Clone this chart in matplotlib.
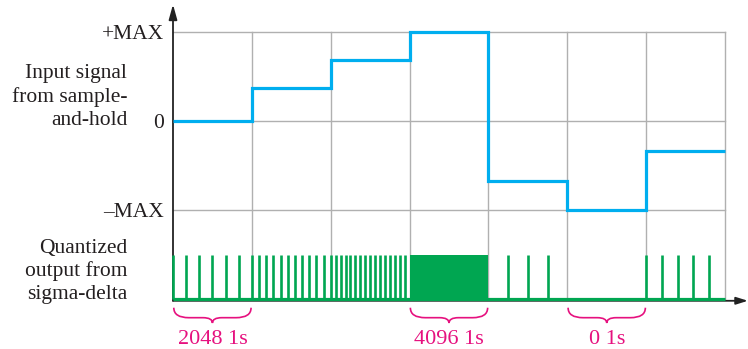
import numpy as np
import matplotlib
matplotlib.use("Agg")
import matplotlib.pyplot as plt
from matplotlib.path import Path
from matplotlib.patches import PathPatch

plt.rcParams["font.family"] = ["Liberation Serif", "DejaVu Serif"]

# input signal level held in each sample period (+MAX = 1, -MAX = -1)
levels = [0, 0.37, 0.685, 1, -0.674, -1, -0.337]
edges = np.arange(len(levels) + 1)

# sigma-delta output pulses (x in sample periods)
pulses = [0, 0.167, 0.333, 0.5, 0.667, 0.833,
          1.0, 1.091, 1.182, 1.273, 1.364, 1.455, 1.545, 1.636, 1.727, 1.818, 1.909,
          2.0, 2.0625, 2.125, 2.1875, 2.25, 2.3125, 2.375, 2.4375, 2.5, 2.5625,
          2.625, 2.6875, 2.75, 2.8125, 2.875, 2.9375,
          4.25, 4.5, 4.75,
          6.0, 6.2, 6.4, 6.6, 6.8]
solid_periods = [3]          # all ones
brace_periods = [0, 3, 5]
brace_labels = ["2048 1s", "4096 1s", "0 1s"]

ytick_vals = [1, 0, -1]
ytick_labels = ["+MAX", "0", "\u2013MAX"]

blue = "#00AEEF"
green = "#00A651"
magenta = "#E6117F"
grey = "#B0B0B0"

fig = plt.figure(figsize=(7.48, 3.49), dpi=100)
ax = fig.add_axes([0, 0, 1, 1])
ax.set_xlim(-173 / 78.86, 575 / 78.86)
ax.set_ylim(-228 / 89, 121 / 89)
ax.axis("off")

base = -2.0
ptop = -1.5
n = len(levels)

# grid
for x in range(1, n + 1):
    ax.plot([x, x], [base, 1], color=grey, lw=1.0, zorder=1)
for y in ytick_vals:
    ax.plot([0, n], [y, y], color=grey, lw=1.0, zorder=1)

# axes with arrows
ax.annotate("", xy=(7.29, base - 0.02), xytext=(0, base - 0.02),
            arrowprops=dict(arrowstyle="-|>,head_length=0.7,head_width=0.22",
                            color="#222222", lw=1.3, shrinkA=0, shrinkB=0))
ax.annotate("", xy=(0, 1.31), xytext=(0, base - 0.02),
            arrowprops=dict(arrowstyle="-|>,head_length=0.9,head_width=0.25",
                            color="#222222", lw=1.3, shrinkA=0, shrinkB=0))

# input signal
ax.stairs(levels, edges, baseline=None, color=blue, lw=2.3, zorder=3)

# quantized output
ax.plot([0, n], [base, base], color=green, lw=2.3, zorder=3, solid_capstyle="butt")
ax.vlines(pulses, base, ptop, color=green, lw=1.9, zorder=3)
for p in solid_periods:
    ax.fill_between([p, p + 1], base, ptop, color=green, lw=0, zorder=3)

# tick labels
for y, lab in zip(ytick_vals, ytick_labels):
    ax.text(-0.12, y - 0.025, lab, ha="right", va="center", fontsize=15.5, color="#231F20")

ax.text(-0.58, 0.27, "Input signal\nfrom sample-\nand-hold", ha="right", va="center",
        fontsize=15.5, linespacing=1.25, color="#231F20")
ax.text(-0.58, -1.69, "Quantized\noutput from\nsigma-delta", ha="right", va="center",
        fontsize=15.5, linespacing=1.25, color="#231F20")

# braces
def brace(x0, x1, ytop=-2.098, yflat=-2.21, ytip=-2.27, r=0.19, r2=0.12):
    xm = (x0 + x1) / 2
    verts = [(x0, ytop), (x0, yflat), (x0 + r, yflat),
             (xm - r2, yflat), (xm, yflat), (xm, ytip),
             (xm, yflat), (xm + r2, yflat),
             (x1 - r, yflat), (x1, yflat), (x1, ytop)]
    codes = [Path.MOVETO, Path.CURVE3, Path.CURVE3,
             Path.LINETO, Path.CURVE3, Path.CURVE3,
             Path.CURVE3, Path.CURVE3,
             Path.LINETO, Path.CURVE3, Path.CURVE3]
    return PathPatch(Path(verts, codes), fill=False, edgecolor=magenta, lw=1.2)

for p, lab in zip(brace_periods, brace_labels):
    ax.add_patch(brace(p + 0.01, p + 0.99))
    ax.text(p + 0.5, -2.46, lab, ha="center", va="center", fontsize=16, color=magenta)

fig.savefig("out.png", dpi=100)
